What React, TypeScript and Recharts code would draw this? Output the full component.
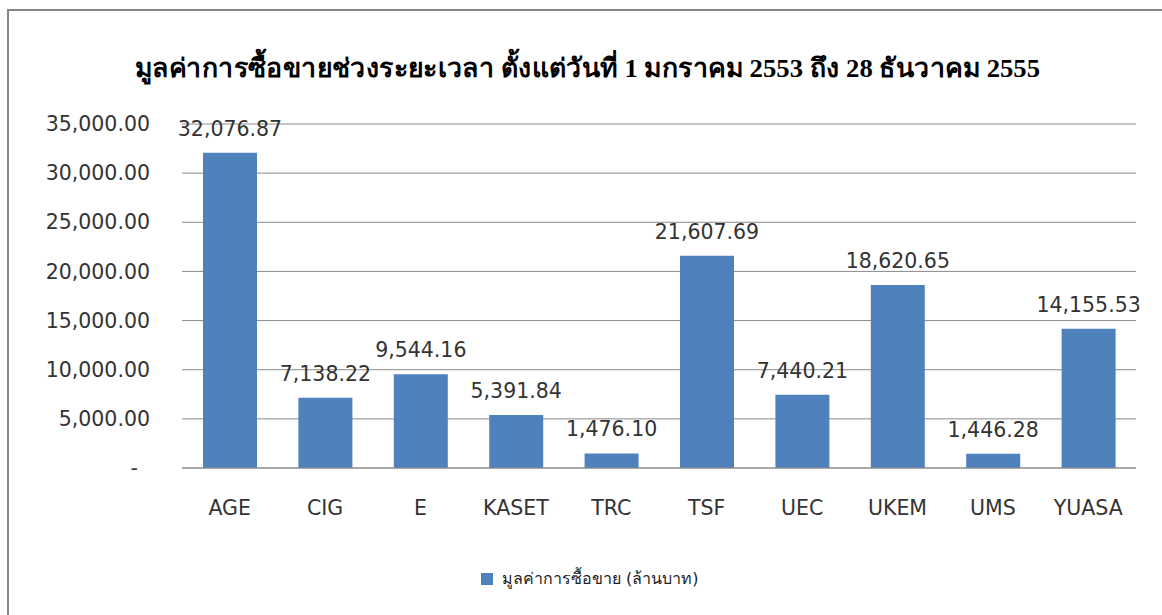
import React from "react";
import { BarChart, Bar, XAxis, YAxis, CartesianGrid, LabelList } from "recharts";

const categories = ["AGE", "CIG", "E", "KASET", "TRC", "TSF", "UEC", "UKEM", "UMS", "YUASA"];
const values = [32076.87, 7138.22, 9544.16, 5391.84, 1476.1, 21607.69, 7440.21, 18620.65, 1446.28, 14155.53];
const yTicks = [0, 5000, 10000, 15000, 20000, 25000, 30000, 35000];
const title = "มูลค่าการซื้อขายช่วงระยะเวลา ตั้งแต่วันที่ 1 มกราคม 2553 ถึง 28 ธันวาคม 2555";
const seriesName = "มูลค่าการซื้อขาย (ล้านบาท)";

const data = categories.map((c, i) => ({ name: c, value: values[i] }));

const fmt = (v: number) =>
  v.toLocaleString("en-US", { minimumFractionDigits: 2, maximumFractionDigits: 2 });

const FONT = "'DejaVu Sans', Tahoma, sans-serif";
const FS = 20.5;

const YTick = (props: any) => {
  const { x, y, payload } = props;
  const v = payload.value as number;
  return (
    <text
      x={v === 0 ? x - 12 : x}
      y={y}
      dy="0.35em"
      textAnchor="end"
      fill="#333"
      fontSize={FS}
      fontFamily={FONT}
    >
      {v === 0 ? "-" : fmt(v)}
    </text>
  );
};

export default function App() {
  return (
    <div style={{ position: "fixed", left: 0, top: 0, width: 1162, height: 615, background: "#fff", overflow: "hidden" }}>
      <div
        style={{
          position: "absolute",
          left: 7,
          top: 9,
          width: 1180,
          height: 640,
          border: "2px solid #868686",
          boxSizing: "border-box",
        }}
      />
      <svg style={{ position: "absolute", left: 0, top: 0 }} width={1162} height={110}>
        <text
          x={135}
          y={77}
          textLength={905}
          lengthAdjust="spacingAndGlyphs"
          fontFamily="'Liberation Serif', 'DejaVu Serif', serif"
          fontWeight="bold"
          fontSize={26}
          fill="#000"
        >
          {title}
        </text>
      </svg>
      <div style={{ position: "absolute", left: 0, top: 0 }}>
        <BarChart
          width={1162}
          height={615}
          data={data}
          margin={{ top: 124, right: 26, left: 42, bottom: 117 }}
        >
          <CartesianGrid horizontal vertical={false} stroke="#8c8c8c" strokeWidth={1} />
          <XAxis
            dataKey="name"
            height={30}
            axisLine={{ stroke: "#8c8c8c" }}
            tickLine={false}
            tickSize={0}
            tickMargin={32}
            tick={{ fill: "#333", fontSize: FS, fontFamily: FONT }}
            interval={0}
          />
          <YAxis
            width={140}
            domain={[0, 35000]}
            ticks={yTicks}
            axisLine={false}
            tickLine={false}
            tickSize={0}
            tickMargin={32}
            tick={<YTick />}
            interval={0}
          />
          <Bar dataKey="value" name={seriesName} fill="#4F81BD" barSize={54} isAnimationActive={false}>
            <LabelList
              dataKey="value"
              position="top"
              offset={17}
              formatter={(v: any) => fmt(Number(v))}
              style={{ fill: "#333", fontSize: FS, fontFamily: FONT }}
            />
          </Bar>
        </BarChart>
      </div>
      <div
        style={{
          position: "absolute",
          left: 481,
          top: 566,
          display: "flex",
          alignItems: "center",
          fontFamily: FONT,
          fontSize: 16,
          color: "#222",
          whiteSpace: "nowrap",
        }}
      >
        <span style={{ display: "inline-block", width: 12, height: 12, background: "#4F81BD", marginRight: 9 }} />
        <span>{seriesName}</span>
      </div>
    </div>
  );
}
